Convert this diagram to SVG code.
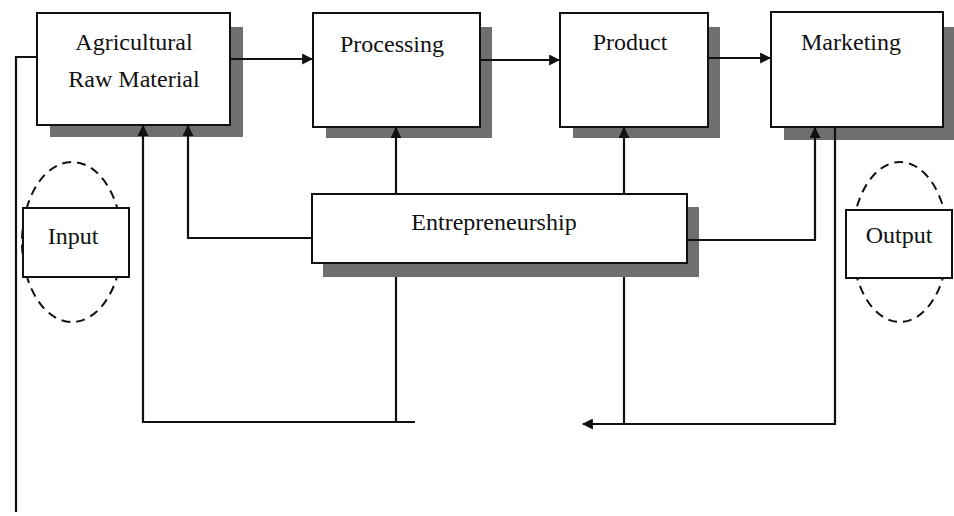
<svg xmlns="http://www.w3.org/2000/svg" width="954" height="516" viewBox="0 0 954 516">
<style>
.bg{fill:#ffffff}
.shadow{fill:#6f6f6f}
.box{fill:#ffffff;stroke:#111;stroke-width:2}
.lbl{font-family:"Liberation Serif","DejaVu Serif",serif;font-size:24px;fill:#111;text-anchor:middle}
.ln{fill:none;stroke:#111;stroke-width:2.2}
.dash{fill:none;stroke:#111;stroke-width:2;stroke-dasharray:9 6}
</style>
<defs>
<marker id="ah" viewBox="0 0 10 10" refX="9" refY="5" markerWidth="11" markerHeight="11" markerUnits="userSpaceOnUse" orient="auto">
<path d="M0,0 L10,5 L0,10 z" fill="#111"/>
</marker>
</defs>
<rect class="bg" x="0" y="0" width="954" height="516"/>

<g id="input">
<ellipse class="dash" cx="72" cy="242" rx="50" ry="80"/>
<rect class="box" x="23" y="208" width="106" height="69"/>
<text class="lbl" x="73" y="244">Input</text>
</g>

<g id="output">
<ellipse class="dash" cx="900" cy="242" rx="48" ry="80"/>
<rect class="box" x="846" y="210" width="106" height="68"/>
<text class="lbl" x="899" y="243">Output</text>
</g>

<g id="agricultural">
<rect class="shadow" x="50" y="27" width="193" height="110"/>
<rect class="box" x="37" y="13" width="193" height="112"/>
<text class="lbl" x="134" y="50">Agricultural</text>
<text class="lbl" x="134" y="87">Raw Material</text>
</g>

<g id="processing">
<rect class="shadow" x="326" y="27" width="166" height="111"/>
<rect class="box" x="313" y="13" width="167" height="114"/>
<text class="lbl" x="392" y="52">Processing</text>
</g>

<g id="product">
<rect class="shadow" x="573" y="27" width="147" height="111"/>
<rect class="box" x="560" y="13" width="148" height="114"/>
<text class="lbl" x="630" y="50">Product</text>
</g>

<g id="marketing">
<rect class="shadow" x="784" y="27" width="170" height="113"/>
<rect class="box" x="771" y="12" width="172" height="115"/>
<text class="lbl" x="851" y="50">Marketing</text>
</g>

<g id="entrepreneurship">
<rect class="shadow" x="323" y="207" width="376" height="70"/>
<rect class="box" x="312" y="194" width="375" height="69"/>
<text class="lbl" x="494" y="230">Entrepreneurship</text>
</g>

<g id="connectors">
<path class="ln" d="M37,57 H16 V512"/>
<path class="ln" d="M230,59 H312" marker-end="url(#ah)"/>
<path class="ln" d="M480,60 H559" marker-end="url(#ah)"/>
<path class="ln" d="M708,58 H770" marker-end="url(#ah)"/>
<path class="ln" d="M396,194 V128" marker-end="url(#ah)"/>
<path class="ln" d="M624,194 V128" marker-end="url(#ah)"/>
<path class="ln" d="M312,238 H188 V126" marker-end="url(#ah)"/>
<path class="ln" d="M687,240 H815 V128" marker-end="url(#ah)"/>
<path class="ln" d="M396,277 V422"/>
<path class="ln" d="M415,422 H143 V126" marker-end="url(#ah)"/>
<path class="ln" d="M624,277 V424"/>
<path class="ln" d="M835,127 V424 H583" marker-end="url(#ah)"/>
</g>
</svg>
